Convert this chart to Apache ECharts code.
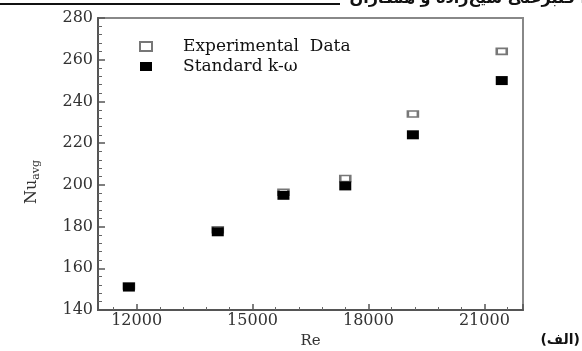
<!DOCTYPE html>
<html><head><meta charset="utf-8">
<script src="https://cdn.jsdelivr.net/npm/echarts@6/dist/echarts.min.js"></script>
<style>html,body{margin:0;padding:0;background:#fff}#c{width:582px;height:351px}</style>
</head><body><div id="c"></div>
<script>
// Data
const reValues = [11800, 14100, 15800, 17400, 19150, 21450];
const experimentalNu = [151.5, 178.5, 196.5, 203, 234, 264];
const standardKOmegaNu = [151, 177.5, 195, 199.5, 224, 250];
const seriesNames = ['Experimental  Data', 'Standard k-\u03c9'];
const xTickLabels = ['12000', '15000', '18000', '21000'];
const yTickLabels = ['140', '160', '180', '200', '220', '240', '260', '280'];
const headerText = 'ا قنبرعلی شیخ‌زاده و همکاران';
const panelLabel = '(الف)';

const serif = 'DejaVu Serif';
const chart = echarts.init(document.getElementById('c'), null, {renderer: 'canvas'});
const pairs = (xs, ys) => xs.map((x, i) => [x, ys[i]]);

chart.setOption({
  animation: false,
  backgroundColor: '#fff',
  grid: {left: 98, right: 59, top: 18, bottom: 41, outerBoundsMode: 'none', containLabel: false,
         show: true, borderColor: '#888', borderWidth: 2, backgroundColor: 'transparent'},
  legend: {
    orient: 'vertical', left: 134, top: 33, itemWidth: 12, itemHeight: 9, itemGap: 3,
    data: seriesNames,
    textStyle: {fontFamily: serif, fontSize: 17, color: '#111', padding: [0, 0, 0, 26]}
  },
  xAxis: {
    type: 'value', min: 11000, max: 22000, minInterval: 3000, maxInterval: 3000,
    name: 'Re', nameLocation: 'middle', nameGap: 20,
    nameTextStyle: {fontFamily: serif, fontSize: 15, color: '#333'},
    axisLine: {lineStyle: {color: '#555', width: 2}},
    axisTick: {inside: true, length: 6, lineStyle: {color: '#555', width: 1.5}},
    minorTick: {show: true, splitNumber: 5, length: 3, lineStyle: {color: '#666'}},
    splitLine: {show: false},
    axisLabel: {
      showMinLabel: false, showMaxLabel: false, margin: 3,
      fontFamily: serif, fontSize: 16, color: '#333',
      formatter: v => xTickLabels.includes(String(v)) ? String(v) : ''
    }
  },
  yAxis: {
    type: 'value', min: 140, max: 280, interval: 20,
    name: '{a|Nu}{b|avg}', nameLocation: 'middle', nameGap: 56, nameRotate: 90,
    nameTextStyle: {padding: [0, 36, 0, 0], rich: {
      a: {fontFamily: serif, fontSize: 16, color: '#333'},
      b: {fontFamily: serif, fontSize: 11, color: '#333', padding: [10, 0, 0, 0]}
    }},
    axisLine: {lineStyle: {color: '#555', width: 2}},
    axisTick: {inside: true, length: 7, lineStyle: {color: '#555', width: 1.5}},
    minorTick: {show: true, splitNumber: 5, length: 4, lineStyle: {color: '#666'}},
    splitLine: {show: false},
    axisLabel: {
      margin: 5, fontFamily: serif, fontSize: 16, color: '#333',
      formatter: v => yTickLabels.includes(String(v)) ? String(v) : ''
    }
  },
  series: [
    {name: seriesNames[0], type: 'scatter', symbol: 'rect', symbolSize: [10, 6],
     itemStyle: {color: '#fff', borderColor: '#777', borderWidth: 2, opacity: 1},
     data: pairs(reValues, experimentalNu), z: 2},
    {name: seriesNames[1], type: 'scatter', symbol: 'rect', symbolSize: [12, 9],
     itemStyle: {color: '#000', opacity: 1},
     data: pairs(reValues, standardKOmegaNu), z: 3}
  ],
  graphic: [
    {type: 'line', shape: {x1: 0, y1: 4, x2: 340, y2: 4}, style: {stroke: '#111', lineWidth: 2}},
    {type: 'text', x: 586, y: -9, style: {text: headerText, font: 'bold 16px "DejaVu Sans"', fill: '#111', textAlign: 'right'}},
    {type: 'text', x: 580, y: 333, style: {text: panelLabel, font: 'bold 14px "DejaVu Sans"', fill: '#111', textAlign: 'right'}}
  ]
});
</script></body></html>
